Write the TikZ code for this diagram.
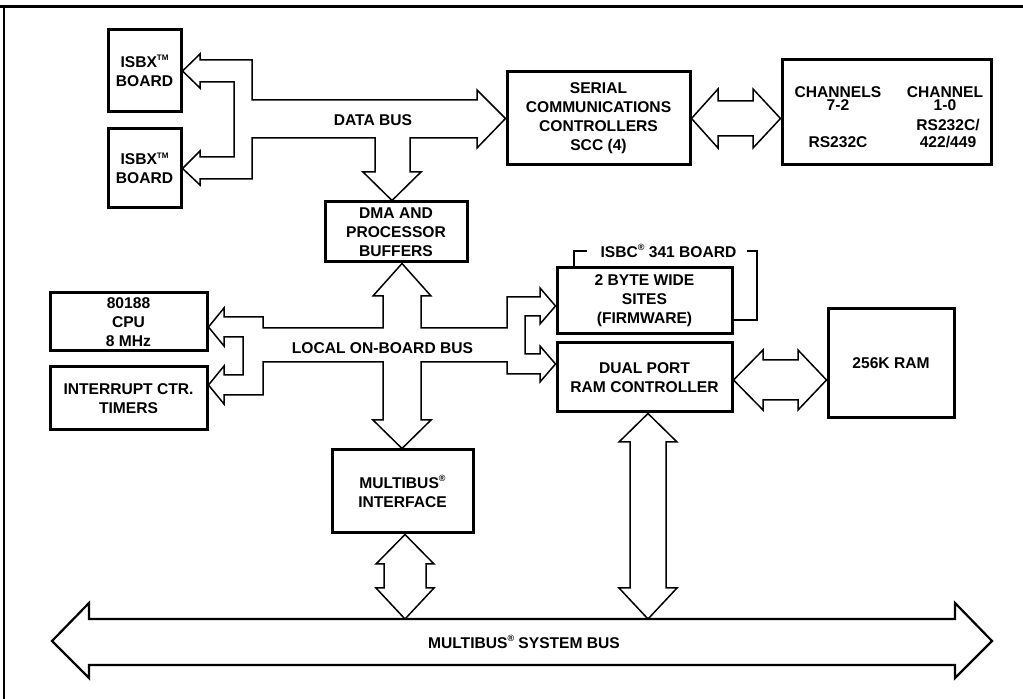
\documentclass[tikz,border=0pt]{standalone}
\usepackage{fontspec}
\setmainfont{Liberation Sans}
\usepackage{tikz}
\usetikzlibrary{calc}
\newcommand{\regd}{\raisebox{0.75ex}{\fontsize{4.5}{4.5}\selectfont\textregistered}}
\newcommand{\tmk}{\raisebox{0.8ex}{\fontsize{4}{4}\selectfont TM}}

\begin{document}
\begin{tikzpicture}[x=0.5pt, y=-0.5pt,
  blk/.style={draw, line width=1.5pt, align=center, inner sep=0pt,
    font=\fontsize{7.8}{9.5}\selectfont\bfseries},
  txt/.style={inner sep=0pt, align=center, font=\fontsize{7.8}{9.5}\selectfont\bfseries},
  fat/.style={draw, line width=0.75pt, line join=miter},
  sysline/.style={draw, line width=1.1pt, line join=miter}]
  \useasboundingbox (0,0) rectangle (1023,699);
  % page frame
  \draw[line width=1.5pt] (0,7) -- (1023,7);
  \draw[line width=1pt] (4,7) -- (4,699);

  % blocks
  \node[blk, minimum width=36.5pt, minimum height=41pt] (isbxa) at (144.5,71) {ISBX\tmk\\BOARD};
  \node[blk, minimum width=36.5pt, minimum height=39.5pt] (isbxb) at (144.5,168.5) {ISBX\tmk\\BOARD};
  \node[blk, minimum width=91.5pt, minimum height=46.5pt] (scc) at (598.5,118.5)
    {SERIAL\\COMMUNICATIONS\\CONTROLLERS\\SCC (4)};
  \node[blk, minimum width=104.5pt, minimum height=52.5pt] (chan) at (886.5,112.5) {};
  \node[txt] (chlo) at (838,99) {CHANNELS\\[-3pt]7-2};
  \node[txt] (rslo) at (838,142) {RS232C};
  \node[txt] (chhi) at (945,99) {CHANNEL\\[-3pt]1-0};
  \node[txt] (rshi) at (948,134) {RS232C/\\[-1pt]422/449};
  \node[blk, minimum width=71pt, minimum height=30pt] (dma) at (396,232) {DMA AND\\PROCESSOR\\BUFFERS};
  \node[blk, minimum width=78.5pt, minimum height=29pt] (cpu) at (128.5,322) {80188\\CPU\\8 MHz};
  \node[blk, minimum width=78.5pt, minimum height=31.5pt] (intr) at (128.5,398.5) {INTERRUPT CTR.\\TIMERS};
  \node[blk, minimum width=70.5pt, minimum height=41.5pt] (mbi) at (402.5,491.5) {MULTIBUS\regd\\INTERFACE};
  \node[blk, minimum width=87.5pt, minimum height=33pt] (sites) at (644.5,301) {2 BYTE WIDE\\SITES\\(FIRMWARE)};
  \node[blk, minimum width=87.5pt, minimum height=34.5pt] (dpram) at (644.5,377.5) {DUAL PORT\\RAM CONTROLLER};
  \node[blk, minimum width=63pt, minimum height=54.5pt] (ram) at (891,363.5) {256K RAM};

  % labels
  \node[txt] (dbus) at (373,120) {DATA BUS};
  \node[txt] (lbus) at (382.5,348) {LOCAL ON-BOARD BUS};
  \node[txt] (sbus) at (524,642) {MULTIBUS\regd\ SYSTEM BUS};
  \node[txt] (isbc) at (668.5,251) {ISBC\regd\ 341 BOARD};

  % isbc 341 bracket
  \draw[line width=0.7pt] (574,0 |- sites.north) |- ([xshift=-6.5pt]isbc.west);
  \draw[line width=0.7pt] ([xshift=5pt]isbc.east) -| (757,320) -- (sites.east |- 0,320);

  % data bus
  \draw[fat] (isbxa.east) -- (200,54) -- (200,60) -- (252,60) -- (252,100) -- (477,100)
    -- (477,90) -- (scc.west) -- (477,148) -- (477,138) -- (410,138) -- (410,172)
    -- (421,172) -- (392,0 |- dma.north) -- (363,172) -- (375,172) -- (375,138)
    -- (252,138) -- (252,179) -- (200,179) -- (200,185) -- (isbxb.east) -- (200,151)
    -- (200,157) -- (234,157) -- (234,82) -- (200,82) -- (200,88) -- cycle;
  \draw[fat] (scc.east) -- (718,89) -- (718,101) -- (753,101) -- (753,89)
    -- (chan.west |- scc.east) -- (753,148) -- (753,136) -- (718,136) -- (718,148) -- cycle;

  % local on-board bus
  \draw[fat] (402,0 |- dma.south) -- (431,296) -- (421,296) -- (421,328) -- (507,328)
    -- (507,297) -- (540,297) -- (540,288) -- (sites.west |- 0,306) -- (540,324)
    -- (540,316) -- (525,316) -- (525,354) -- (540,354) -- (540,346)
    -- (dpram.west |- 0,364) -- (540,382) -- (540,374) -- (507,374) -- (507,362)
    -- (421,362) -- (421,420) -- (431,420) -- (402,0 |- mbi.north) -- (373,420)
    -- (383,420) -- (383,362) -- (263,362) -- (263,395) -- (224,395) -- (224,404)
    -- (intr.east |- 0,385) -- (224,366) -- (224,375) -- (243,375) -- (243,337)
    -- (224,337) -- (224,346) -- (cpu.east |- 0,327) -- (224,308) -- (224,317)
    -- (263,317) -- (263,328) -- (383,328) -- (383,296) -- (373,296) -- cycle;
  \draw[fat] (dpram.east |- 0,380) -- (763,350) -- (763,360) -- (798,360) -- (798,350)
    -- (ram.west |- 0,380) -- (798,410) -- (798,400) -- (763,400) -- (763,410) -- cycle;

  % multibus system bus
  \coordinate (busA) at (405,619);
  \coordinate (busB) at (648,619);
  \draw[fat] (405,0 |- mbi.south) -- (434,564) -- (426,564) -- (426,588) -- (434,588)
    -- (busA) -- (376,588) -- (384,588) -- (384,564) -- (376,564) -- cycle;
  \draw[fat] (648,0 |- dpram.south) -- (677,442) -- (666,442) -- (666,588) -- (677,588)
    -- (busB) -- (619,588) -- (630,588) -- (630,442) -- (619,442) -- cycle;
  \draw[sysline] (52,641) -- (89,603) -- (89,619) -- (955,619) -- (955,603) -- (992,641)
    -- (955,678) -- (955,665) -- (89,665) -- (89,678) -- cycle;
\end{tikzpicture}
\end{document}
